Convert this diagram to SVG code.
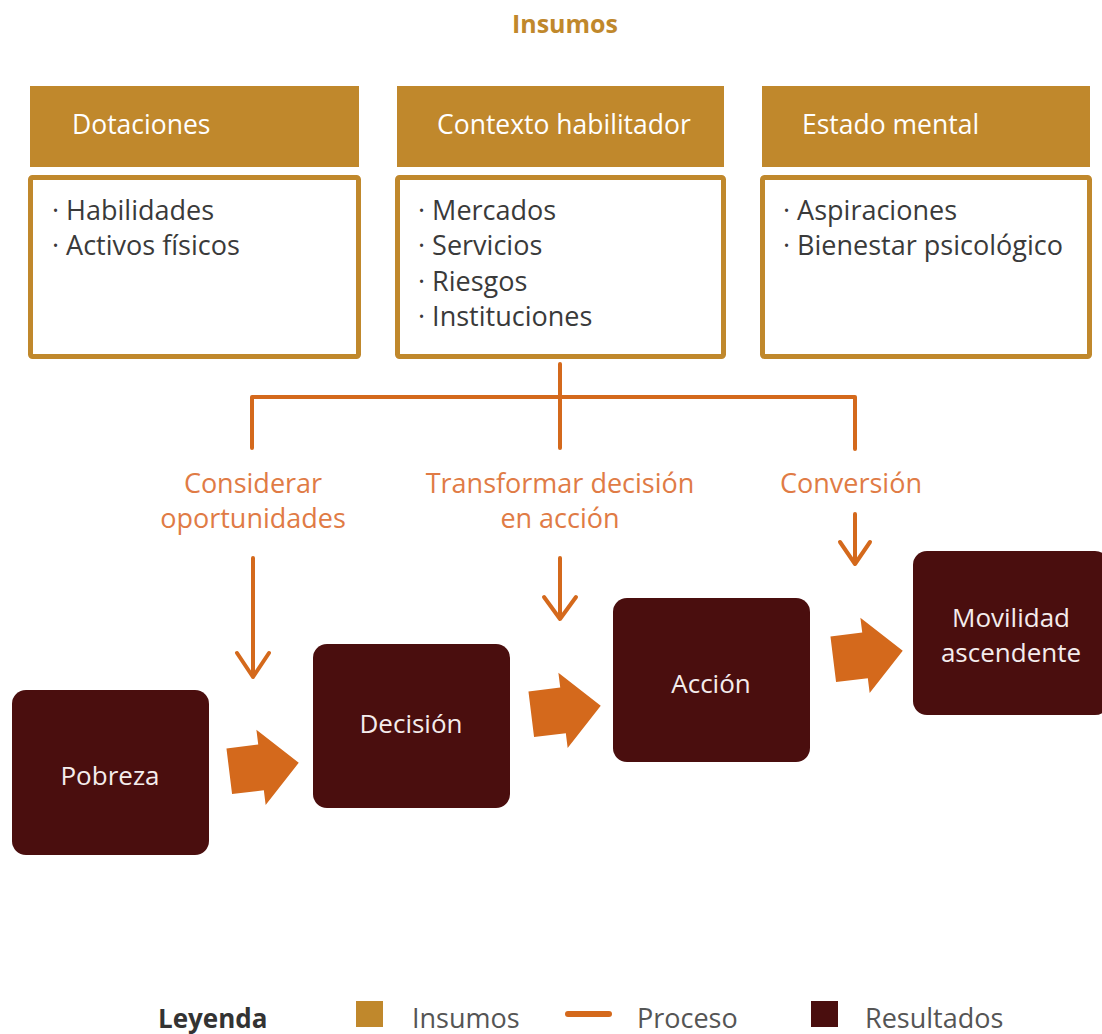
<svg xmlns="http://www.w3.org/2000/svg" width="1102" height="1034" viewBox="0 0 1102 1034">
<style>
text{font-family:"Open Sans","Liberation Sans",sans-serif;}
.title{font-size:25px;font-weight:bold;fill:#C0882C;}
.head{fill:#C0882C;}
.htext{font-size:26.5px;fill:#FFFFFF;}
.box{fill:#FFFFFF;stroke:#C0882C;stroke-width:5;}
.item{font-size:27px;fill:#3A3A3A;}
.conn{fill:none;stroke:#D4691C;stroke-width:4;stroke-linecap:round;stroke-linejoin:round;}
.lbl{font-size:27px;fill:#E07B45;text-anchor:middle;}
.res{fill:#4A0E0E;}
.rtext{font-size:26px;fill:#F4ECEC;text-anchor:middle;}
.big{fill:#D4691C;}
.leg{font-size:27px;fill:#555555;}
</style>
<defs>
<path id="bigArrow" d="M-35,-23 L-3,-23 L-3,-38 L35,0 L-3,38 L-3,23 L-35,23 Z"/>
</defs>
<text class="title" x="565" y="33" text-anchor="middle">Insumos</text>
<g id="dotaciones">
<rect class="head" x="30" y="86" width="329" height="81"/>
<text class="htext" x="72" y="134">Dotaciones</text>
<rect class="box" x="30.5" y="177.5" width="328" height="179" rx="2"/>
<text class="item" x="52" y="220">· Habilidades</text>
<text class="item" x="52" y="255">· Activos físicos</text>
</g>
<g id="contexto">
<rect class="head" x="397" y="86" width="327" height="81"/>
<text class="htext" x="437" y="134">Contexto habilitador</text>
<rect class="box" x="397.5" y="177.5" width="326" height="179" rx="2"/>
<text class="item" x="418" y="220">· Mercados</text>
<text class="item" x="418" y="255">· Servicios</text>
<text class="item" x="418" y="291">· Riesgos</text>
<text class="item" x="418" y="326">· Instituciones</text>
</g>
<g id="estado">
<rect class="head" x="762" y="86" width="328" height="81"/>
<text class="htext" x="802" y="134">Estado mental</text>
<rect class="box" x="762.5" y="177.5" width="327" height="179" rx="2"/>
<text class="item" x="783" y="220">· Aspiraciones</text>
<text class="item" x="783" y="255">· Bienestar psicológico</text>
</g>
<g id="connectors">
<path class="conn" d="M560,364 L560,448"/>
<path class="conn" d="M252,448 L252,397 L855,397 L855,449"/>
<path class="conn" d="M253,558 L253,677 M237,653 L253,677 L269,653"/>
<path class="conn" d="M560,558 L560,619 M544,597 L560,619 L576,597"/>
<path class="conn" d="M855,514 L855,564 M840,542 L855,564 L870,542"/>
<use href="#bigArrow" class="big" transform="translate(264,767) rotate(-7)"/>
<use href="#bigArrow" class="big" transform="translate(566,710) rotate(-7)"/>
<use href="#bigArrow" class="big" transform="translate(868,655) rotate(-7)"/>
</g>
<g id="labels">
<text class="lbl" x="253" y="493">Considerar</text>
<text class="lbl" x="253" y="528">oportunidades</text>
<text class="lbl" x="560" y="493">Transformar decisión</text>
<text class="lbl" x="560" y="528">en acción</text>
<text class="lbl" x="851" y="493">Conversión</text>
</g>
<g id="pobreza">
<rect class="res" x="12" y="690" width="197" height="165" rx="14"/>
<text class="rtext" x="110" y="785">Pobreza</text>
</g>
<g id="decision">
<rect class="res" x="313" y="644" width="197" height="164" rx="14"/>
<text class="rtext" x="411" y="733">Decisión</text>
</g>
<g id="accion">
<rect class="res" x="613" y="598" width="197" height="164" rx="14"/>
<text class="rtext" x="711" y="693">Acción</text>
</g>
<g id="movilidad">
<rect class="res" x="913" y="551" width="196" height="164" rx="14"/>
<text class="rtext" x="1011" y="627">Movilidad</text>
<text class="rtext" x="1011" y="662">ascendente</text>
</g>
<g id="legend">
<text x="158" y="1028" style="font-size:26px;font-weight:bold;fill:#333333">Leyenda</text>
<rect x="356" y="1001" width="27" height="26" fill="#C0882C"/>
<text class="leg" x="412" y="1028">Insumos</text>
<line x1="568" y1="1014" x2="609" y2="1014" stroke="#D4691C" stroke-width="6" stroke-linecap="round"/>
<text class="leg" x="637" y="1028">Proceso</text>
<rect x="811" y="1001" width="27" height="26" fill="#4A0E0E"/>
<text class="leg" x="865" y="1028">Resultados</text>
</g>
</svg>
